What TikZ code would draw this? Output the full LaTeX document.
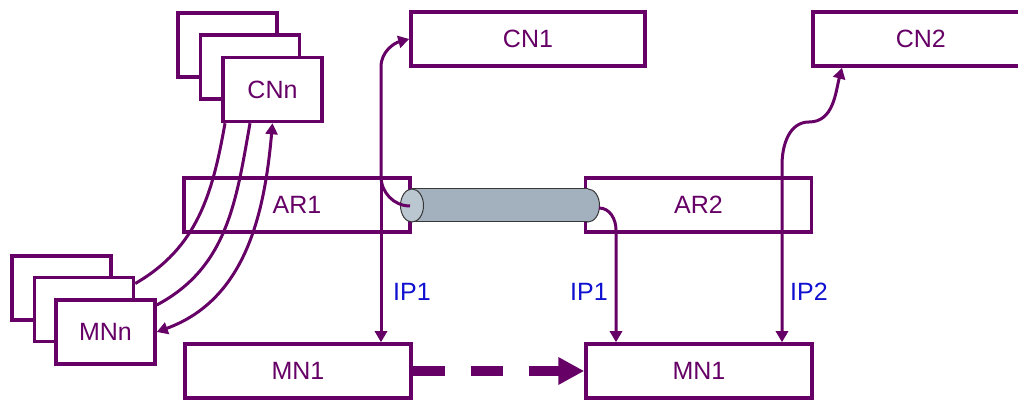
\documentclass[tikz,border=0pt]{standalone}
\usepackage{fontspec}
\setmainfont{Liberation Sans}
\usetikzlibrary{arrows.meta}
\definecolor{plum}{RGB}{102,0,102}
\definecolor{iplabel}{RGB}{16,16,208}
\definecolor{tubebody}{RGB}{163,177,190}
\definecolor{tubeend}{RGB}{186,198,208}
\definecolor{tubeedge}{RGB}{55,55,55}

\begin{document}
\begin{tikzpicture}[
    x=1pt, y=1pt,
    >={Triangle[length=11pt,width=12pt]},
    box/.style={rectangle, draw=plum, line width=3.5pt, fill=white, inner sep=0pt, text=plum, font=\fontsize{25}{30}\selectfont},
    wide/.style={box, minimum width=226pt, minimum height=54pt},
    stackbox/.style={box, minimum width=99pt, minimum height=64pt},
    link/.style={draw=plum, line width=3pt},
    iplab/.style={text=iplabel, inner sep=0pt, font=\fontsize{25}{30}\selectfont},
    handover/.style={draw=plum, line width=10pt, dash pattern=on 32pt off 26pt, -{Triangle[length=26pt,width=26pt]}},
    tube/.style={draw=tubeedge, line width=1pt}
]
    \useasboundingbox (0,0) rectangle (1018,402);
    \clip (0,0) rectangle (1018,402);

    \node[stackbox] (cnc) at (227.5,357) {};
    \node[stackbox] (cnb) at (250,335) {};
    \node[stackbox] (cnn) at (272.5,312.5) {CNn};
    \node[stackbox] (mnc) at (61.5,114) {};
    \node[stackbox] (mnb) at (84,92.5) {};
    \node[stackbox] (mnn) at (105.5,70) {MNn};

    \node[box, minimum width=234pt, minimum height=54pt] (cn1) at (528,363) {CN1};
    \node[box, minimum width=216pt, minimum height=54pt] (cn2) at (920.75,363) {CN2};
    \node[wide] (ar1) at (297,197) {AR1};
    \node[wide] (ar2) at (698.5,197) {AR2};
    \node[wide] (mn1a) at (298,31) {MN1};
    \node[wide] (mn1b) at (699,31) {MN1};

    \node[iplab] (ipa) at (412,110) {IP1};
    \node[iplab] (ipb) at (589,110) {IP1};
    \node[iplab] (ipc) at (809,110) {IP2};

    \filldraw[tube, fill=tubebody] (588,196.5) ellipse [x radius=11.5, y radius=16.5];
    \fill[tubebody] (412,180) rectangle (588,213);
    \draw[tube] (412,213) -- (588,213) (412,180) -- (588,180);
    \filldraw[tube, fill=tubeend] (412,196.5) ellipse [x radius=11.5, y radius=16.5];

    \coordinate (tunL) at (410,196);
    \coordinate (tunR) at (599,194);
    \coordinate (join) at (381,0 |- ar1.north);
    \coordinate (bendR) at (616,172);

    \draw[link] ([xshift=-47.5pt]cnn.south) to[out=-100,in=30] ([yshift=26pt]mnb.east);
    \draw[link] ([xshift=-22.5pt]cnn.south) to[out=-100,in=28] ([yshift=27pt]mnn.east);
    \draw[link,<->] (cnn.south) to[out=-95,in=20] (mnn.east);

    \draw[link,->] (tunL) to[out=180,in=-90] (join) -- (381,335) to[out=90,in=195] (cn1.west);
    \draw[link,->] (join) -- (381,0 |- mn1a.north);
    \draw[link,->] (tunR) to[out=0,in=90] (bendR) -- (bendR |- mn1b.north);
    \draw[link,<->] (782,0 |- mn1b.north) -- (782,237) to[out=90,in=180] (809,280) to[out=0,in=-105] (842,0 |- cn2.south);

    \draw[handover] (mn1a.east) -- (mn1b.west);
\end{tikzpicture}
\end{document}
